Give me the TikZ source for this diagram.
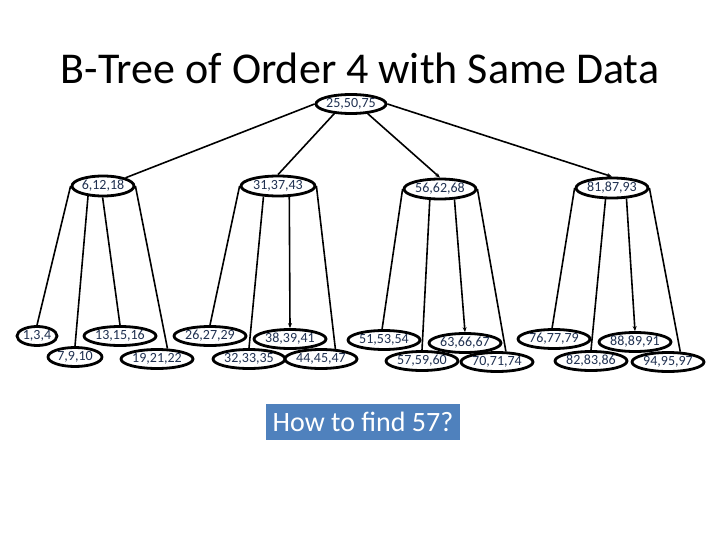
\documentclass[tikz,border=0pt]{standalone}
\usepackage{fontspec}
\setmainfont{Carlito}
\usepackage{tikz}
\usetikzlibrary{shapes.geometric, arrows.meta}
\definecolor{keynavy}{HTML}{1F3050}
\definecolor{askblue}{HTML}{4F81BD}

\begin{document}
\begin{tikzpicture}[x=1pt, y=-1pt,
    keynode/.style={ellipse, draw=black, line width=2.8pt, fill=white, inner sep=0pt,
                    minimum width=72pt, minimum height=19pt, text=keynavy,
                    font=\fontsize{14}{14}\selectfont},
    link/.style={line width=1.6pt},
    pointer/.style={link, -{Stealth[length=5pt, width=4pt]}}]
    \useasboundingbox (0,0) rectangle (720,540);
    \node (title) at (360,68) {\fontsize{44}{44}\selectfont B-Tree of Order 4 with Same Data};
    % root and inner nodes
    \node[keynode, minimum width=69pt] (root) at (351,104) {25,50,75};
    \node[keynode, minimum width=62pt, minimum height=20pt] (k1) at (103,186) {6,12,18};
    \node[keynode, minimum width=74pt, minimum height=20pt] (k2) at (278,186) {31,37,43};
    \node[keynode, minimum height=20pt] (k3) at (440,189) {56,62,68};
    \node[keynode, minimum height=20pt] (k4) at (612,188) {81,87,93};
    % leaves
    \node[keynode, minimum width=40pt] (l1) at (37,336) {1,3,4};
    \node[keynode, minimum width=54pt] (l2) at (75,357) {7,9,10};
    \node[keynode] (l3) at (120,336) {13,15,16};
    \node[keynode] (l4) at (157,359) {19,21,22};
    \node[keynode] (l5) at (210,336) {26,27,29};
    \node[keynode] (l6) at (249,359) {32,33,35};
    \node[keynode] (l7) at (290,339) {38,39,41};
    \node[keynode] (l8) at (321,359) {44,45,47};
    \node[keynode] (l9) at (384,340) {51,53,54};
    \node[keynode] (l10) at (422,361) {57,59,60};
    \node[keynode] (l11) at (465,343) {63,66,67};
    \node[keynode] (l12) at (497,362) {70,71,74};
    \node[keynode] (l13) at (554,339) {76,77,79};
    \node[keynode] (l14) at (591,361) {82,83,86};
    \node[keynode] (l15) at (635,342) {88,89,91};
    \node[keynode] (l16) at (668,362) {94,95,97};
    \node[fill=askblue, text=white, minimum width=194pt, minimum height=36pt,
          font=\fontsize{28}{28}\selectfont] (ask) at (363,422) {How to find 57?};
    % links
    \draw[link] (root.west) -- (k1.20);
    \draw[link] (root.210) -- (k2.north);
    \draw[pointer] (root.330) -- (k3.north);
    \draw[pointer] (root.east) -- (k4.north);
    \draw[link] (k1.west) -- (l1.north);
    \draw[link] (k1.214) -- (l2.north);
    \draw[link] (k1.268) -- (l3.north);
    \draw[link] (k1.east) -- (l4.45);
    \draw[link] (k2.west) -- (l5.north);
    \draw[link] (k2.216) -- (l6.north);
    \draw[pointer] (k2.316) -- (l7.north);
    \draw[link] (k2.east) -- (l8.35);
    \draw[link] (k3.west) -- (l9.100);
    \draw[link] (k3.227) -- (l10.north);
    \draw[pointer] (k3.324) -- (l11.north);
    \draw[link] (k3.east) -- (l12.50);
    \draw[link] (k4.west) -- (l13.100);
    \draw[link] (k4.240) -- (l14.north);
    \draw[pointer] (k4.324) -- (l15.north);
    \draw[link] (k4.east) -- (l16.40);
\end{tikzpicture}
\end{document}
